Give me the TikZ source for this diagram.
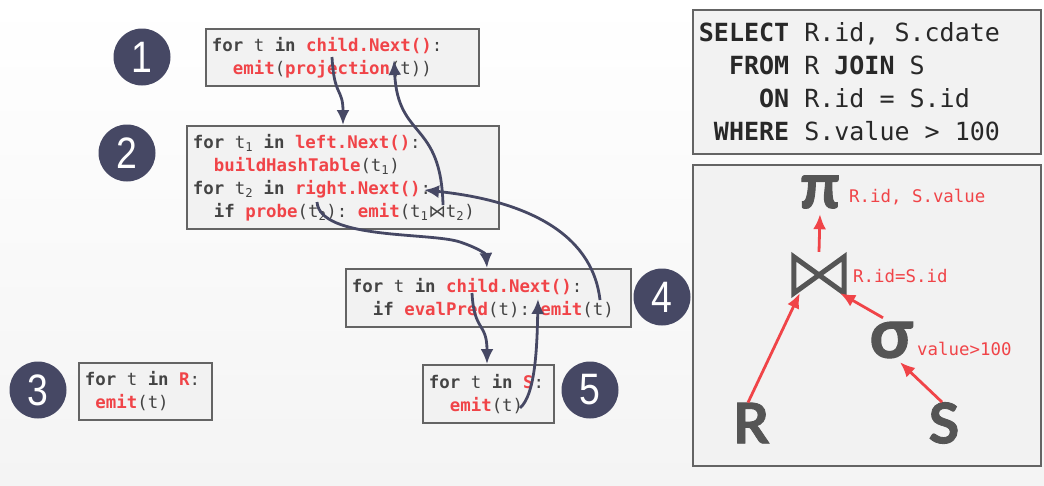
\documentclass[tikz,border=0pt]{standalone}
\usepackage{fontspec}
\usetikzlibrary{arrows.meta}
\setmainfont{Lato}
\setmonofont{DejaVu Sans Mono}
\newfontfamily\zahlfont[FakeStretch=0.85]{Liberation Sans}
\newfontfamily\baumfont[BoldFeatures={FakeBold=1.5}]{Lato}
\newfontfamily\zeichenfont{DejaVu Sans}

\definecolor{rot}{RGB}{240,68,72}
\definecolor{dunkel}{RGB}{70,72,100}
\definecolor{schrift}{RGB}{68,68,68}
\definecolor{sqlschrift}{RGB}{40,40,40}
\definecolor{kasten}{RGB}{242,242,242}
\definecolor{rand}{RGB}{100,100,100}
\definecolor{baum}{RGB}{85,85,85}
\definecolor{hinten}{RGB}{244,244,244}

%Schrift für Code
\newcommand{\codefont}[2]{\ttfamily\fontsize{#1}{#2}\selectfont}
%Schlüsselwort und Funktion im Code
\newcommand{\kw}[1]{\textbf{#1}}
\newcommand{\fn}[1]{\textcolor{rot}{\textbf{#1}}}
\newcommand{\ein}{\phantom{mm}}

\begin{document}
\begin{tikzpicture}
		[
		x=1pt, y=-1pt, >={Latex[length=15pt,width=13pt]},
		font=\codefont{17.4}{23},
		%Voreinstellungen
		codebox/.style={draw=rand, line width=1.8pt, fill=kasten, anchor=north west, align=flush left, inner xsep=6pt, inner ysep=0pt, text=schrift,
			execute at begin node={\spaceskip=0.602em\relax}},
		nummer/.style={circle, fill=dunkel, minimum size=57pt, inner sep=0pt, text=white, font=\zahlfont\fontsize{44}{44}\selectfont},
		fluss/.style={->, dunkel, line width=2.8pt},
		baumpfeil/.style={->, rot, line width=2.8pt},
		operator/.style={text=baum, inner sep=0pt, minimum width=40pt, minimum height=40pt, font=\baumfont\bfseries\fontsize{64}{64}\selectfont},
		etikett/.style={text=rot, inner sep=0pt, anchor=base west}
		]
		
		%Hintergrund
		\fill[top color=white, bottom color=hinten] (0,0) rectangle (1044,485);
		
		%Nummern
		\node[nummer] (n1) at (142,57) {1};
		\node[nummer] (n2) at (127,153) {2};
		\node[nummer] (n3) at (38,390) {3};
		\node[nummer] (n4) at (662,297) {4};
		\node[nummer] (n5) at (590,390) {5};
		
		%Projektion
		\node[codebox, text width=261pt, minimum height=57pt] (kasten1) at (205,28)
		{\kw{for} t \kw{in} \fn{child.Next()}:\\ \ein\fn{emit}(\fn{projection}(t))};
		
		%Join
		\node[codebox, text width=300pt, minimum height=103pt] (kasten2) at (186,125)
		{\kw{for} t\textsubscript{1} \kw{in} \fn{left.Next()}:\\
		 \ein\fn{buildHashTable}(t\textsubscript{1})\\
		 \kw{for} t\textsubscript{2} \kw{in} \fn{right.Next()}:\\
		 \ein\kw{if} \fn{probe}(t\textsubscript{2}): \fn{emit}(t\textsubscript{1}{\zeichenfont ⋈}t\textsubscript{2})};
		
		%Filter
		\node[codebox, text width=273pt, minimum height=58pt] (kasten4) at (345,268)
		{\kw{for} t \kw{in} \fn{child.Next()}:\\ \ein\kw{if} \fn{evalPred}(t): \fn{emit}(t)};
		
		%Scan S
		\node[codebox, text width=119pt, minimum height=58pt] (kasten5) at (422,364)
		{\kw{for} t \kw{in} \fn{S}:\\ \ein\fn{emit}(t)};
		
		%Scan R
		\node[codebox, text width=121pt, minimum height=57pt] (kasten3) at (78,362)
		{\kw{for} t \kw{in} \fn{R}:\\ \phantom{m}\fn{emit}(t)};
		
		%SQL Anfrage
		\node[codebox, text=sqlschrift, text width=336pt, minimum height=144pt, font=\codefont{25}{33}] (sql) at (692,9)
		{\kw{SELECT} R.id, S.cdate\\
		 \ein\kw{FROM} R \kw{JOIN} S\\
		 \ein\ein\kw{ON} R.id = S.id\\
		 \phantom{m}\kw{WHERE} S.value > 100};
		
		%Pfeile im Code
		\coordinate (s1) at (332,57);
		\coordinate (s2) at (443,205);
		\coordinate (z2) at (394,60);
		\coordinate (s3) at (317,202);
		\coordinate (s4) at (600,300);
		\coordinate (z4) at (424,190);
		\coordinate (s5) at (472,293);
		\coordinate (s6) at (520,408);
		\coordinate (z6) at (538,299);
		
		\draw[fluss] (s1) .. controls (334,97) and (343,88) .. ([xshift=157pt]kasten2.north west);
		\draw[fluss] (s2) .. controls (441,120) and (398,140) .. (z2);
		\draw[fluss] (s3) .. controls (320,240) and (430,232) .. (460,242) .. controls (478,248) and (486,254) .. ([xshift=142pt]kasten4.north west);
		\draw[fluss] (s4) .. controls (592,230) and (520,200) .. (z4);
		\draw[fluss] (s5) .. controls (474,332) and (487,322) .. ([xshift=65pt]kasten5.north west);
		\draw[fluss] (s6) .. controls (535,395) and (537,350) .. (z6);
		
		%Operatorbaum
		\node[draw=rand, line width=1.8pt, fill=kasten, anchor=north west, minimum width=348pt, minimum height=301pt, inner sep=0pt] (baumkasten) at (692,164) {};
		
		\node[operator] (pi) at (820,192) {π};
		\node[minimum width=50pt, minimum height=36pt, inner sep=0pt] (join) at (819,275) {};
		\draw[baum, line width=5pt] (join.north west) -- (join.south west) -- (join.north east) -- (join.south east) -- cycle;
		\node[operator, font=\baumfont\bfseries\fontsize{70}{70}\selectfont] (sigma) at (891,340) {σ};
		\node[operator, font=\baumfont\bfseries\fontsize{56}{56}\selectfont] (R) at (751,423) {R};
		\node[operator, font=\baumfont\bfseries\fontsize{56}{56}\selectfont] (S) at (944,423) {S};
		
		\node[etikett] (pilabel) at (849,202) {R.id, S.value};
		\node[etikett] (joinlabel) at (853,282) {R.id=S.id};
		\node[etikett] (sigmalabel) at (917,355) {value>100};
		
		\draw[baumpfeil] ([yshift=5pt]join.north) -- ([yshift=-2pt]pi.south);
		\draw[baumpfeil] ([xshift=-3pt]R.north) -- ([xshift=6pt]join.south west);
		\draw[baumpfeil] ([xshift=-8pt,yshift=2pt]sigma.north) -- ([xshift=-4pt]join.south east);
		\draw[baumpfeil] ([xshift=-2pt]S.north) -- ([xshift=9pt,yshift=-2pt]sigma.south);
		
	\end{tikzpicture}
\end{document}
